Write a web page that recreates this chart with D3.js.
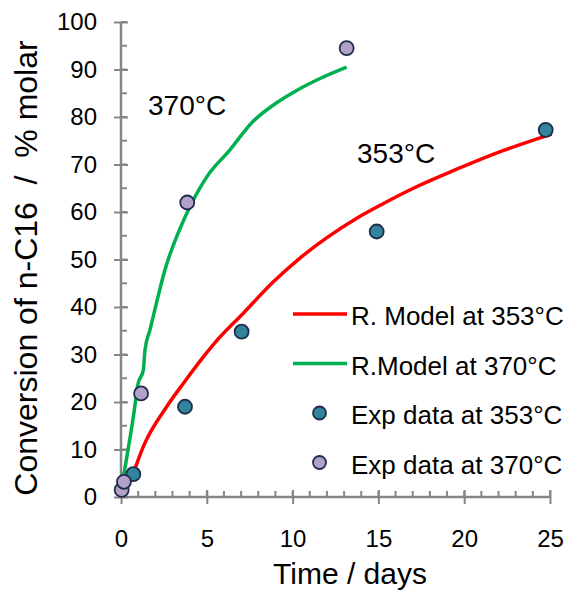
<!DOCTYPE html>
<html><head><meta charset="utf-8">
<script src="https://cdn.jsdelivr.net/npm/d3@7"></script>
<style>body{margin:0;background:#fff}svg{display:block;font-family:Arial,"Liberation Sans",sans-serif}</style>
</head><body>
<script>
// Data
const model353X = [0.82,1.3,2.66,3.63,4.8,5.48,7.13,8.88,10.43,12.0,13.74,15.3,17.04,19.5,22.1,25.1];
const model353Y = [6.0,10.6,19.0,23.9,29.5,32.5,38.7,45.3,50.3,54.6,58.7,61.8,65.0,68.9,72.7,76.4];
const model370X = [0.13,0.72,1.0,1.3,1.4,1.69,2.56,3.83,5.0,6.35,7.62,9.07,10.24,11.6,13.15];
const model370Y = [4.0,16.9,23.9,26.7,31.0,35.2,47.8,59.7,67.4,73.1,78.8,83.0,85.6,88.1,90.5];
const exp353X = [0.72,3.73,7.03,14.9,24.75];
const exp353Y = [4.8,19.0,34.8,55.9,77.3];
const exp370X = [0.04,0.17,1.17,3.86,13.15];
const exp370Y = [1.5,3.2,21.8,62.0,94.5];
const xTicks = [0,5,10,15,20,25];
const yTicks = [0,10,20,30,40,50,60,70,80,90,100];
const legendLabels = ["R. Model at 353°C","R.Model at 370°C","Exp data at 353°C","Exp data at 370°C"];

const W=565,H=591;
const svg=d3.select("body").append("svg").attr("width",W).attr("height",H);
const x=d3.scaleLinear().domain([0,25]).range([121,550]);
const y=d3.scaleLinear().domain([0,100]).range([497,22]);
const axisColor="#868686";

// minor ticks
const g=svg.append("g");
g.selectAll(".xm").data(d3.range(0,26,1)).join("line")
  .attr("x1",d=>x(d)).attr("x2",d=>x(d)).attr("y1",y(0)).attr("y2",y(0)-6)
  .attr("stroke",axisColor).attr("stroke-width",2);
g.selectAll(".ym").data(d3.range(0,101,5)).join("line")
  .attr("y1",d=>y(d)).attr("y2",d=>y(d)).attr("x1",x(0)).attr("x2",x(0)+6)
  .attr("stroke",axisColor).attr("stroke-width",2);

// axes via d3
const xAxis=d3.axisBottom(x).tickValues(xTicks).tickSize(7).tickPadding(26).tickFormat(d3.format("d"));
const xg=svg.append("g").attr("transform",`translate(0,${y(0)})`).call(xAxis);
const yAxis=d3.axisLeft(y).tickValues(yTicks).tickSize(7).tickPadding(17).tickFormat(d3.format("d"));
const yg=svg.append("g").attr("transform",`translate(${x(0)},0)`).call(yAxis);
[xg,yg].forEach(a=>{
  a.select(".domain").attr("stroke",axisColor).attr("stroke-width",2.5);
  a.selectAll(".tick line").attr("stroke",axisColor).attr("stroke-width",2);
  a.selectAll(".tick text").attr("fill","#000").attr("font-size",24).attr("font-family","Arial, Liberation Sans, sans-serif");
});
xg.selectAll(".tick line").attr("y1",-7);
yg.selectAll(".tick line").attr("x1",7);
xg.select(".domain").attr("d",`M${x(0)},0H${x(25)}`);
yg.select(".domain").attr("d",`M0,${y(0)}V${y(100)}`);

// lines
const line=d3.line().x(d=>x(d[0])).y(d=>y(d[1])).curve(d3.curveMonotoneX);
svg.append("path").datum(d3.zip(model353X,model353Y)).attr("d",line)
  .attr("fill","none").attr("stroke","#FF0000").attr("stroke-width",3.5).attr("stroke-linejoin","round");
svg.append("path").datum(d3.zip(model370X,model370Y)).attr("d",line)
  .attr("fill","none").attr("stroke","#00B050").attr("stroke-width",3.5).attr("stroke-linejoin","round");

// points
const stroke="#1F2D4D";
svg.selectAll(".p353").data(d3.zip(exp353X,exp353Y)).join("circle")
  .attr("cx",d=>x(d[0])).attr("cy",d=>y(d[1])).attr("r",7)
  .attr("fill","#31849B").attr("stroke",stroke).attr("stroke-width",1.8);
svg.selectAll(".p370").data(d3.zip(exp370X,exp370Y)).join("circle")
  .attr("cx",d=>x(d[0])).attr("cy",d=>y(d[1])).attr("r",7)
  .attr("fill","#B3A2C7").attr("stroke",stroke).attr("stroke-width",1.8);

// annotations
svg.append("text").attr("x",148).attr("y",115).attr("font-size",28).text("370°C");
svg.append("text").attr("x",357).attr("y",163).attr("font-size",28).text("353°C");

// axis titles
svg.append("text").attr("x",350).attr("y",584).attr("text-anchor","middle").attr("font-size",30).text("Time / days");
svg.append("text").attr("transform","translate(37,268) rotate(-90)").attr("text-anchor","middle")
  .attr("font-size",32).attr("xml:space","preserve").style("white-space","pre").text("Conversion of n-C16  /  % molar");

// legend
const lg=svg.append("g");
const rows=[{t:"line",c:"#FF0000"},{t:"line",c:"#00B050"},{t:"pt",c:"#31849B"},{t:"pt",c:"#B3A2C7"}];
rows.forEach((r,i)=>{
  const cy=316+i*49.5;
  if(r.t==="line") lg.append("line").attr("x1",293).attr("x2",347).attr("y1",cy-2).attr("y2",cy-2).attr("stroke",r.c).attr("stroke-width",3.5);
  else lg.append("circle").attr("cx",319.5).attr("cy",cy-2).attr("r",6.5).attr("fill",r.c).attr("stroke",stroke).attr("stroke-width",1.8);
  lg.append("text").attr("x",351).attr("y",cy+9).attr("font-size",26).text(legendLabels[i]);
});
</script>
</body></html>
